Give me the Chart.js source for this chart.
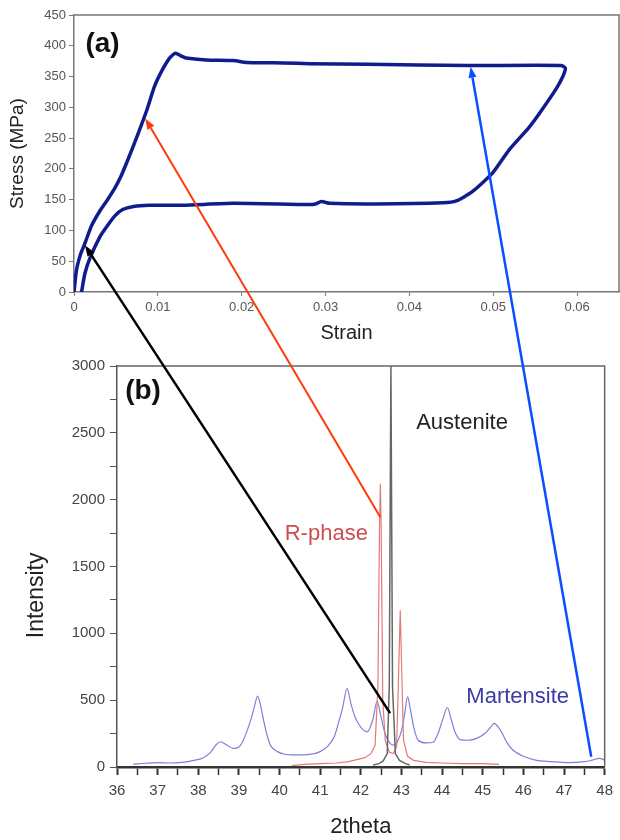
<!DOCTYPE html>
<html>
<head>
<meta charset="utf-8">
<script src="https://cdn.jsdelivr.net/npm/chart.js@4.4.1/dist/chart.umd.min.js"></script>
<style>
    html, body { margin: 0; padding: 0; background: #fff; }
    #contenedor { position: relative; width: 620px; height: 840px; }
    #graficoCurva { position: absolute; left: 0; top: 0; }
    #graficoDrx { position: absolute; left: 0; top: 345px; }
    #flechas { position: absolute; left: 0; top: 0; pointer-events: none; }
</style>
</head>
<body>
<div id="contenedor">
    <canvas id="graficoCurva" width="620" height="345"></canvas>
    <canvas id="graficoDrx" width="620" height="495"></canvas>
    <canvas id="flechas" width="620" height="840"></canvas>
</div>
<script>
// Lazo esfuerzo-deformacion (carga y descarga)
const deformacion = [0, 0.0003, 0.0008, 0.0013, 0.0021, 0.0031, 0.0040, 0.0048, 0.0056, 0.0064, 0.0075, 0.0087, 0.0096, 0.0105, 0.0114, 0.0121, 0.0127, 0.0134, 0.0158, 0.0190, 0.0206, 0.0250, 0.0281, 0.0350, 0.0471, 0.0581, 0.0586, 0.0583, 0.0575, 0.0555, 0.0543, 0.0519, 0.0499, 0.0475, 0.0456, 0.0440, 0.0360, 0.0305, 0.0295, 0.0288, 0.0280, 0.0190, 0.0130, 0.0090, 0.0071, 0.0058, 0.0049, 0.0040, 0.0031, 0.0019, 0.0013, 0.0009];
const esfuerzo = [0, 36, 62, 79, 108, 132, 150, 167, 188, 214, 252, 296, 334, 360, 380, 388, 384, 380, 377, 376, 373, 372, 371, 370, 368, 368, 364, 350, 330, 290, 268, 231, 193, 163, 148, 145, 143, 144, 147, 143, 142, 144, 141, 141, 139, 134, 124, 108, 90, 55, 30, 0];

// Difractogramas: martensita
const thetaMart = [36.4, 36.7, 37.0, 37.3, 37.6, 37.9, 38.1, 38.3, 38.45, 38.55, 38.7, 38.86, 39.0, 39.1, 39.2, 39.3, 39.38, 39.46, 39.54, 39.62, 39.7, 39.78, 39.95, 40.1, 40.4, 40.7, 41.0, 41.2, 41.35, 41.45, 41.55, 41.66, 41.76, 41.85, 41.95, 42.05, 42.16, 42.3, 42.4, 42.48, 42.56, 42.65, 42.8, 42.9, 43.0, 43.08, 43.15, 43.22, 43.3, 43.41, 43.6, 43.78, 43.9, 44.02, 44.13, 44.22, 44.32, 44.45, 44.65, 44.85, 45.05, 45.2, 45.28, 45.38, 45.5, 45.6, 45.74, 46.0, 46.3, 46.7, 47.1, 47.5, 47.7, 47.87, 48.0];
const intMart = [22, 28, 32, 30, 35, 50, 65, 110, 170, 189, 165, 139, 150, 195, 270, 360, 450, 530, 450, 330, 230, 160, 115, 97, 90, 92, 115, 160, 230, 330, 440, 587, 470, 380, 320, 280, 263, 360, 492, 400, 290, 210, 164, 190, 270, 400, 525, 430, 300, 200, 180, 185, 250, 360, 445, 360, 260, 205, 200, 214, 250, 300, 326, 300, 240, 180, 127, 80, 52, 40, 32, 40, 52, 65, 52];
// fase R
const thetaFaseR = [40.3, 40.6, 41.0, 41.4, 41.7, 41.9, 42.1, 42.25, 42.35, 42.42, 42.46, 42.48, 42.50, 42.54, 42.6, 42.7, 42.8, 42.88, 42.93, 42.97, 43.0, 43.05, 43.15, 43.3, 43.6, 44.0, 44.5, 45.0, 45.4];
const intFaseR = [10, 20, 25, 30, 40, 55, 70, 100, 160, 600, 1800, 2119, 1800, 500, 200, 110, 100, 150, 700, 1172, 800, 200, 80, 50, 35, 30, 25, 25, 20];
// austenita
const thetaAust = [42.3, 42.45, 42.55, 42.65, 42.7, 42.74, 42.78, 42.85, 42.95, 43.1, 43.2];
const intAust = [15, 25, 45, 100, 600, 3000, 600, 100, 50, 25, 15];

// Flechas: punto del difractograma -> punto de la curva
const flechaTheta = [42.72, 42.48, 47.67];
const flechaInt = [403, 1868, 77];
const flechaDef = [0.0013, 0.0085, 0.0473];
const flechaEsf = [76, 282, 366];
const flechaColor = ['#000000', '#ff3a0a', '#0a4fff'];

const FUENTE = '"Liberation Sans", Arial, Helvetica, sans-serif';

const puntos = (xs, ys) => xs.map((x, i) => ({ x: x, y: ys[i] }));

// Borde superior y derecho del area de trazado
function crearMarco(color, ancho) {
    return {
        id: 'marco',
        afterDraw(chart) {
            const { ctx, chartArea: a } = chart;
            ctx.save();
            ctx.strokeStyle = color;
            ctx.lineWidth = ancho;
            ctx.beginPath();
            ctx.moveTo(a.left, a.top);
            ctx.lineTo(a.right, a.top);
            ctx.lineTo(a.right, a.bottom);
            ctx.stroke();
            ctx.restore();
        }
    };
}

// Textos colocados en coordenadas de datos
function crearTextos(lista) {
    return {
        id: 'textos',
        afterDraw(chart) {
            const { ctx, scales } = chart;
            ctx.save();
            lista.forEach(t => {
                const px = t.px !== undefined ? t.px : scales.x.getPixelForValue(t.x);
                const py = scales.y.getPixelForValue(t.y);
                ctx.font = t.font;
                ctx.fillStyle = t.color;
                ctx.textAlign = 'center';
                ctx.textBaseline = 'middle';
                ctx.save();
                ctx.translate(px, py);
                if (t.rot) ctx.rotate(t.rot);
                ctx.fillText(t.text, 0, 0);
                ctx.restore();
            });
            ctx.restore();
        }
    };
}

// (a) Curva esfuerzo-deformacion
const graficoCurva = new Chart(document.getElementById('graficoCurva').getContext('2d'), {
    type: 'scatter',
    data: {
        datasets: [{
            data: puntos(deformacion, esfuerzo),
            showLine: true,
            borderColor: '#101c8e',
            borderWidth: 3.5,
            pointRadius: 0,
            tension: 0.2,
            fill: false
        }]
    },
    options: {
        responsive: false,
        animation: false,
        events: [],
        layout: { padding: { top: 15, right: 1, left: 0, bottom: 0 } },
        plugins: { legend: { display: false }, tooltip: { enabled: false } },
        scales: {
            x: {
                type: 'linear', min: 0, max: 0.065,
                afterFit: s => { s.height = 53; },
                border: { color: '#777', width: 1.5 },
                grid: { drawOnChartArea: false, tickLength: 4, tickColor: '#777' },
                ticks: {
                    stepSize: 0.01, includeBounds: false, maxRotation: 0, padding: 4,
                    color: '#555', font: { family: FUENTE, size: 13 },
                    callback: v => String(+v.toFixed(3))
                },
                title: { display: true, text: 'Strain', color: '#222', font: { family: FUENTE, size: 20 }, padding: { top: 0, bottom: 0 } }
            },
            y: {
                min: 0, max: 450,
                afterFit: s => { s.width = 74; },
                border: { color: '#777', width: 1.5 },
                grid: { drawOnChartArea: false, tickLength: 5, tickColor: '#777' },
                ticks: { stepSize: 50, padding: 3, color: '#555', font: { family: FUENTE, size: 13 } },
                title: { display: true, text: 'Stress (MPa)', color: '#222', font: { family: FUENTE, size: 19 }, padding: { top: 6, bottom: 0 } }
            }
        }
    },
    plugins: [
        crearMarco('#777', 1.5),
        crearTextos([{ text: '(a)', x: 0.0034, y: 403, font: 'bold 28px ' + FUENTE, color: '#111' }])
    ]
});

// (b) Difractogramas de rayos X
const graficoDrx = new Chart(document.getElementById('graficoDrx').getContext('2d'), {
    type: 'scatter',
    data: {
        datasets: [
            { label: 'Austenite', data: puntos(thetaAust, intAust), showLine: true, borderColor: '#666', borderWidth: 1.5, pointRadius: 0 },
            { label: 'R-phase', data: puntos(thetaFaseR, intFaseR), showLine: true, borderColor: '#e27a7a', borderWidth: 1.2, pointRadius: 0 },
            { label: 'Martensite', data: puntos(thetaMart, intMart), showLine: true, borderColor: '#7f7fd8', borderWidth: 1.2, pointRadius: 0, cubicInterpolationMode: 'monotone' }
        ]
    },
    options: {
        responsive: false,
        animation: false,
        events: [],
        layout: { padding: { top: 21, right: 7, left: 0, bottom: 0 } },
        plugins: { legend: { display: false }, tooltip: { enabled: false } },
        scales: {
            x: {
                type: 'linear', min: 36, max: 48,
                afterFit: s => { s.height = 73; },
                border: { color: '#333', width: 2.5 },
                grid: { drawOnChartArea: false, tickLength: 8, tickColor: '#333', tickWidth: c => (Number.isInteger(c.tick.value) ? 2 : 1.5) },
                ticks: {
                    stepSize: 0.5, autoSkip: false, maxRotation: 0, padding: 7,
                    color: '#444', font: { family: FUENTE, size: 15 },
                    callback: v => (Number.isInteger(v) ? v : '')
                },
                title: { display: true, text: '2theta', color: '#222', font: { family: FUENTE, size: 22 }, padding: { top: 0, bottom: 0 } }
            },
            y: {
                min: 0, max: 3000,
                afterFit: s => { s.width = 117; },
                border: { color: '#555', width: 1.5 },
                grid: { drawOnChartArea: false, tickLength: 7, tickColor: '#555' },
                ticks: {
                    stepSize: 250, autoSkip: false, padding: 5,
                    color: '#444', font: { family: FUENTE, size: 15 },
                    callback: v => (v % 500 === 0 ? v : '')
                }
            }
        }
    },
    plugins: [
        crearMarco('#666', 1.5),
        crearTextos([
            { text: '(b)', x: 36.64, y: 2813, font: 'bold 28px ' + FUENTE, color: '#111' },
            { text: 'Austenite', x: 44.49, y: 2575, font: '22px ' + FUENTE, color: '#222' },
            { text: 'R-phase', x: 41.15, y: 1746, font: '22px ' + FUENTE, color: '#cc4f4f' },
            { text: 'Martensite', x: 45.86, y: 522, font: '22px ' + FUENTE, color: '#3b3ba6' },
            { text: 'Intensity', px: 37, y: 1284, rot: -Math.PI / 2, font: '23px ' + FUENTE, color: '#222' }
        ])
    ]
});

// Flechas entre los dos graficos
function dibujarFlecha(ctx, x1, y1, x2, y2, color, ancho) {
    const ang = Math.atan2(y2 - y1, x2 - x1);
    const largo = 11, medio = 4;
    const bx = x2 - largo * Math.cos(ang), by = y2 - largo * Math.sin(ang);
    ctx.strokeStyle = color;
    ctx.lineWidth = ancho;
    ctx.beginPath();
    ctx.moveTo(x1, y1);
    ctx.lineTo(bx, by);
    ctx.stroke();
    ctx.fillStyle = color;
    ctx.beginPath();
    ctx.moveTo(x2, y2);
    ctx.lineTo(bx + medio * Math.sin(ang), by - medio * Math.cos(ang));
    ctx.lineTo(bx - medio * Math.sin(ang), by + medio * Math.cos(ang));
    ctx.closePath();
    ctx.fill();
}

const capa = document.getElementById('flechas').getContext('2d');
const desplazamientoDrx = 345;
flechaTheta.forEach((t, i) => {
    const x1 = graficoDrx.scales.x.getPixelForValue(t);
    const y1 = graficoDrx.scales.y.getPixelForValue(flechaInt[i]) + desplazamientoDrx;
    const x2 = graficoCurva.scales.x.getPixelForValue(flechaDef[i]);
    const y2 = graficoCurva.scales.y.getPixelForValue(flechaEsf[i]);
    dibujarFlecha(capa, x1, y1, x2, y2, flechaColor[i], i === 1 ? 2 : 2.5);
});
</script>
</body>
</html>
